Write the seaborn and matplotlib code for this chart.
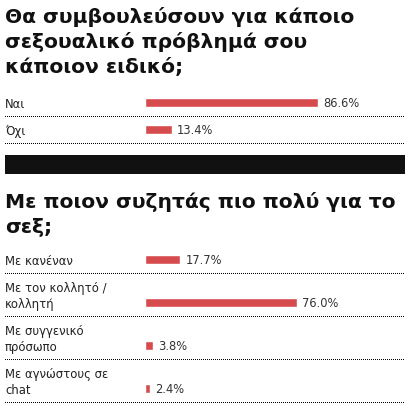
import matplotlib
matplotlib.use("Agg")
import matplotlib.pyplot as plt
import seaborn as sns
import pandas as pd
from matplotlib.patches import Rectangle

# ---- data ----
title1_lines = ["Θα συμβουλεύσουν για κάποιο", "σεξουαλικό πρόβλημά σου", "κάποιον ειδικό;"]
q1_labels = [["Ναι"], ["Όχι"]]
q1_values = [86.6, 13.4]

title2_lines = ["Με ποιον συζητάς πιο πολύ για το", "σεξ;"]
q2_labels = [["Με κανέναν"], ["Με τον κολλητό /", "κολλητή"],
             ["Με συγγενικό", "πρόσωπο"], ["Με αγνώστους σε", "chat"]]
q2_values = [17.7, 76.0, 3.8, 2.4]

sns.set_theme(style="white")
plt.rcParams['font.family'] = ['DejaVu Sans']

W, H = 407, 410
fig = plt.figure(figsize=(W / 100, H / 100), dpi=100)
fig.patch.set_facecolor('white')


def fx(px):
    return px / W


def fy(py):
    return 1 - py / H


BAR = "#d64b4d"
PX = 0.72  # points per pixel


def draw_title(lines, first_baseline, pitch):
    for i, line in enumerate(lines):
        fig.text(fx(5), fy(first_baseline + i * pitch), line, fontsize=14.6,
                 fontweight='bold', color='#111111', va='baseline', ha='left',
                 family='DejaVu Sans')


def panel(top_px, bottom_px, labels, values, ymax, width, sep_offset):
    ax = fig.add_axes([fx(5), fy(bottom_px), 400 / W, (bottom_px - top_px) / H])
    cats = [" ".join(l) for l in labels]
    df = pd.DataFrame({"label": cats, "value": values})
    sns.barplot(data=df, x="value", y="label", orient="h", color=BAR,
                width=width, saturation=1, ax=ax)
    ax.set_xlim(-70, 130)
    ax.set_ylim(ymax, -0.5)
    ax.axis('off')
    for c in ax.containers:
        ax.bar_label(c, fmt="%.1f%%", padding=5 * PX, fontsize=8.3,
                     color='#333333', family='DejaVu Sans')
    for i, lines in enumerate(labels):
        n = len(lines)
        for j, line in enumerate(lines):
            ax.annotate(line, xy=(-70, i),
                        xytext=(0, (-5 + (n - 1 - j) * 16) * PX),
                        textcoords='offset points', ha='left', va='baseline',
                        fontsize=8.4, color='#222222', family='DejaVu Sans',
                        annotation_clip=False)
        ax.axhline(i + sep_offset, color='#000000', linewidth=PX,
                   linestyle=(0, (1, 2)), clip_on=False, antialiased=False)
    return ax


draw_title(title1_lines, 23, 25)
panel(90, 144, q1_labels, q1_values, 1.5, 0.35, 0.5)

fig.add_artist(Rectangle((fx(5), fy(175)), 400 / W, 19 / H,
                         transform=fig.transFigure, facecolor='#111111',
                         edgecolor='none'))

draw_title(title2_lines, 208, 25)
panel(239, 402.5, q2_labels, q2_values, 3 + 13 / 43, 0.23, 13 / 43)

fig.savefig("out.png", dpi=100, facecolor='white')
